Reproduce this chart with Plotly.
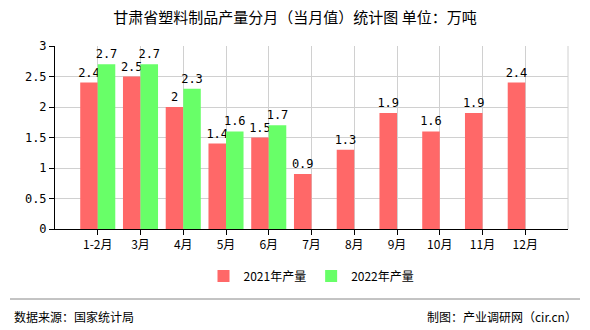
import plotly.graph_objects as go

categories = ["1-2月", "3月", "4月", "5月", "6月", "7月", "8月", "9月", "10月", "11月", "12月"]
values_2021 = [2.4, 2.5, 2.0, 1.4, 1.5, 0.9, 1.3, 1.9, 1.6, 1.9, 2.4]
values_2022 = [2.7, 2.7, 2.3, 1.6, 1.7, None, None, None, None, None, None]
y_ticks = [0, 0.5, 1, 1.5, 2, 2.5, 3]

cjk = "Noto Sans CJK SC"
mono = "DejaVu Sans Mono"

fig = go.Figure()
fig.add_trace(go.Bar(
    name="2021年产量", x=categories, y=values_2021,
    marker=dict(color="#ff6868", line=dict(width=0)),
    text=[("%g" % v) for v in values_2021], textposition="outside",
    textfont=dict(family=mono, size=12, color="#000"), cliponaxis=False,
    constraintext="none",
))
fig.add_trace(go.Bar(
    name="2022年产量", x=categories, y=values_2022,
    marker=dict(color="#68ff68", line=dict(width=0)),
    text=[("%g" % v) if v is not None else "" for v in values_2022], textposition="outside",
    textfont=dict(family=mono, size=12, color="#000"), cliponaxis=False,
    constraintext="none",
))

fig.update_layout(
    width=590, height=330,
    margin=dict(l=55, r=22, t=46, b=101),
    paper_bgcolor="white", plot_bgcolor="white",
    barmode="group", bargap=0.18, bargroupgap=0,
    uniformtext=dict(mode=False),
    font=dict(family=cjk, size=12, color="#000"),
    title=dict(text="甘肃省塑料制品产量分月（当月值）统计图 单位：万吨",
               x=0.5, xanchor="center", y=1 - 18 / 330, yanchor="middle",
               font=dict(family=cjk, size=15, color="#000")),
    showlegend=True,
    legend=dict(orientation="h", x=0.5, xanchor="center", y=-0.257, yanchor="middle",
                font=dict(family=cjk, size=12, color="#000"), itemwidth=30,
                traceorder="normal"),
    xaxis=dict(type="category", range=[-1, 11], showgrid=True, gridcolor="#d0d0d0",
               showline=True, linecolor="#000", linewidth=1,
               ticks="outside", ticklen=5, tickcolor="#000",
               tickfont=dict(family=cjk, size=12, color="#000"), fixedrange=True),
    yaxis=dict(range=[0, 3], tickvals=y_ticks, showgrid=True, gridcolor="#d0d0d0",
               showline=True, linecolor="#000", linewidth=1,
               ticks="outside", ticklen=5, tickcolor="#000", zeroline=False,
               tickfont=dict(family=mono, size=12, color="#000")),
    shapes=[
        dict(type="line", xref="paper", yref="paper", x0=1, x1=1, y0=0, y1=1,
             line=dict(color="#d0d0d0", width=1)),
        dict(type="line", xref="paper", yref="paper", x0=(10 - 55) / 513, x1=(580 - 55) / 513,
             y0=(229 - 299) / 183, y1=(229 - 299) / 183, line=dict(color="#888", width=1)),
    ],
    annotations=[
        dict(text="数据来源：国家统计局", xref="paper", yref="paper",
             x=(12 - 55) / 513, y=(229 - 316) / 183, xanchor="left", yanchor="middle",
             showarrow=False, font=dict(family=cjk, size=12, color="#000")),
        dict(text="制图：产业调研网（cir.cn）", xref="paper", yref="paper",
             x=(579 - 55) / 513, y=(229 - 316) / 183, xanchor="right", yanchor="middle",
             showarrow=False, font=dict(family=cjk, size=12, color="#000")),
    ],
)

fig.write_html("out.html")
